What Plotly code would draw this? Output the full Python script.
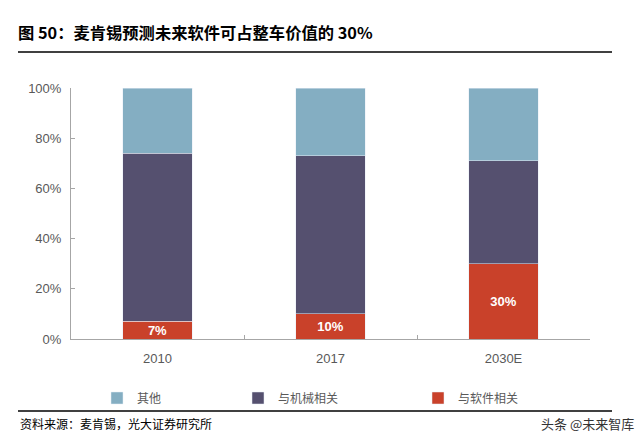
import plotly.graph_objects as go

categories = ["2010", "2017", "2030E"]
software = [7, 10, 30]
mechanical = [67, 63, 41]
other = [26, 27, 29]
software_labels = ["7%", "10%", "30%"]
series_names = ["其他", "与机械相关", "与软件相关"]
y_ticks = [0, 20, 40, 60, 80, 100]
y_tick_labels = ["0%", "20%", "40%", "60%", "80%", "100%"]

C_OTHER = "#84AEC2"
C_MECH = "#55506F"
C_SOFT = "#C9412A"
GREY = "#595959"
AXIS = "#A6A6A6"
CJK = "Noto Sans CJK SC"
LAT = "Liberation Sans, Noto Sans CJK SC"

fig = go.Figure()
fig.add_trace(go.Bar(
    x=categories, y=software, name=series_names[2], marker_color=C_SOFT,
    text=software_labels, textposition="inside", insidetextanchor="middle",
    constraintext="none",
    textfont=dict(family="Liberation Sans", size=13, color="white", weight="bold"),
    width=0.4, legend="legend3", hoverinfo="skip"))
fig.add_trace(go.Bar(
    x=categories, y=mechanical, name=series_names[1], marker_color=C_MECH,
    width=0.4, legend="legend2", hoverinfo="skip"))
fig.add_trace(go.Bar(
    x=categories, y=other, name=series_names[0], marker_color=C_OTHER,
    width=0.4, legend="legend", hoverinfo="skip"))

L, R, T, B = 71, 50, 88, 104
W, H = 640, 443
pw, ph = W - L - R, H - T - B

def px(x):
    return (x - L) / pw

def py(y):
    return (H - B - y) / ph

leg_common = dict(orientation="h", yanchor="middle", y=py(398), xanchor="left",
                  font=dict(family=CJK, size=12, color=GREY),
                  bgcolor="rgba(0,0,0,0)", itemwidth=30)

fig.update_layout(
    width=W, height=H,
    margin=dict(l=L, r=R, t=T, b=B, autoexpand=False),
    paper_bgcolor="white", plot_bgcolor="white",
    barmode="stack",
    showlegend=True,
    legend=dict(leg_common, x=px(97)),
    legend2=dict(leg_common, x=px(238)),
    legend3=dict(leg_common, x=px(418)),
    title=dict(text="图 50：麦肯锡预测未来软件可占整车价值的 30%",
               x=18 / W, xanchor="left", y=1 - 33 / H, yanchor="middle",
               font=dict(family=CJK, size=16.3, color="black", weight="bold")),
    xaxis=dict(type="category", showline=True, linecolor=AXIS, linewidth=1,
               ticks="inside", tickson="boundaries", ticklen=4, tickcolor=AXIS,
               tickfont=dict(family=LAT, size=13, color=GREY),
               showgrid=False, fixedrange=True, ticklabelstandoff=7),
    yaxis=dict(range=[0, 100], tickvals=y_ticks, ticktext=y_tick_labels,
               showline=True, linecolor=AXIS, linewidth=1,
               ticks="inside", ticklen=4, tickcolor=AXIS,
               tickfont=dict(family=LAT, size=13, color=GREY),
               showgrid=False, zeroline=False, fixedrange=True, ticklabelstandoff=6),
    shapes=[
        dict(type="line", xref="paper", yref="paper", x0=px(18), x1=px(612),
             y0=py(52), y1=py(52), line=dict(color="black", width=1.5)),
        dict(type="line", xref="paper", yref="paper", x0=px(18), x1=px(612),
             y0=py(411), y1=py(411), line=dict(color="black", width=1.5)),
    ],
    annotations=[
        dict(text="资料来源：麦肯锡，光大证券研究所", xref="paper", yref="paper",
             x=px(18), y=py(423), xanchor="left", yanchor="middle", showarrow=False,
             font=dict(family=CJK, size=12, color="black")),
        dict(text="头条 @未来智库", xref="paper", yref="paper",
             x=px(636), y=py(423), xanchor="right", yanchor="middle", showarrow=False,
             font=dict(family=CJK, size=13, color="#333333")),
    ],
)

fig.write_html("out.html", config={"displayModeBar": False},
               post_script="document.body.style.margin='0';document.body.style.overflow='hidden';")
